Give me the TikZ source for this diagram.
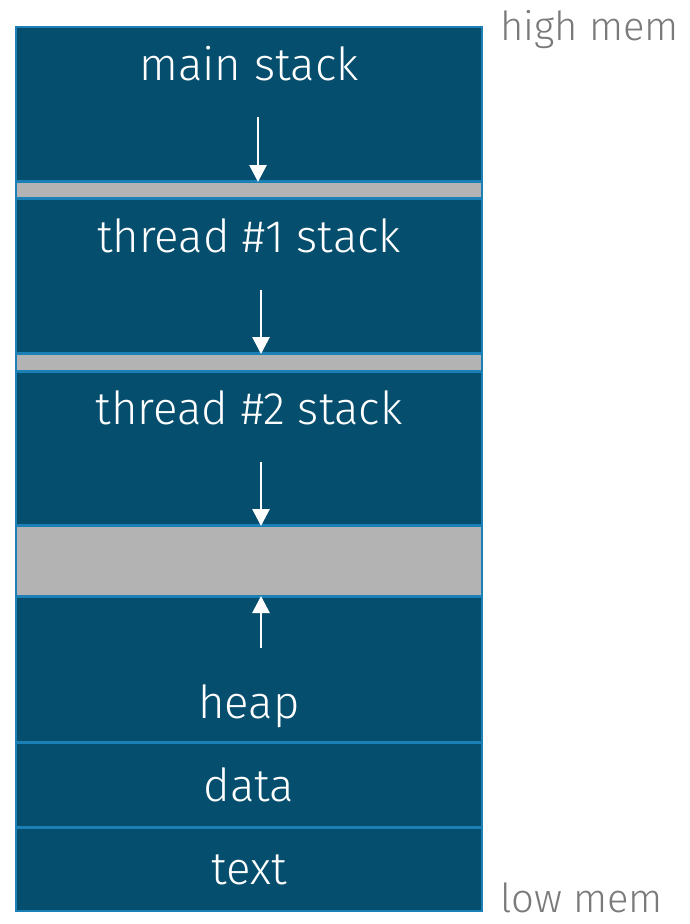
\documentclass[tikz,border=0pt]{standalone}
\usepackage{fontspec}
\setmainfont{Fira Sans Light}
\usetikzlibrary{arrows.meta}
\definecolor{segfill}{HTML}{054E6D}
\definecolor{segline}{HTML}{1A80B6}
\definecolor{gapfill}{HTML}{B3B3B3}
\definecolor{memlabel}{HTML}{7A7A7A}
\tikzset{
  seg/.style={draw=segline, line width=2pt, fill=segfill, minimum width=466pt,
    inner sep=0pt, outer sep=0pt},
  gapseg/.style={seg, fill=gapfill},
  segtext/.style={text=white, font=\fontsize{45.5}{50}\selectfont, inner sep=0pt, anchor=base},
  memtext/.style={text=memlabel, font=\fontsize{40}{44}\selectfont, inner sep=0pt, anchor=base west},
  growth/.style={draw=white, line width=2.8pt, -{Triangle[width=17pt,length=17pt]}}
}
\begin{document}
\begin{tikzpicture}[x=1pt, y=-1pt]
  \useasboundingbox (0,0) rectangle (689,924);
  % memory segments, top to bottom
  \node[seg, minimum height=154pt] (mainstack) at (249,104) {};
  \node[gapseg, minimum height=16pt] (gap1) at (249,190) {};
  \node[seg, minimum height=154pt] (t1stack) at (249,276) {};
  \node[gapseg, minimum height=17pt] (gap2) at (249,362.5) {};
  \node[seg, minimum height=153pt] (t2stack) at (249,448.5) {};
  \node[gapseg, minimum height=70pt] (gap3) at (249,561) {};
  \node[seg, minimum height=145pt] (heap) at (249,669.5) {};
  \node[seg, minimum height=84pt] (data) at (249,785) {};
  \node[seg, minimum height=83pt] (textseg) at (249,869.5) {};
  % segment labels
  \node[segtext] (lmain) at (249,80) {main stack};
  \node[segtext] (lt1) at (249,252) {thread \#1 stack};
  \node[segtext] (lt2) at (249,424) {thread \#2 stack};
  \node[segtext] (lheap) at (249,718) {heap};
  \node[segtext] (ldata) at (249,801) {data};
  \node[segtext] (ltext) at (249,884) {text};
  % address range labels
  \node[memtext] (high) at (500,40) {high mem};
  \node[memtext] (low) at (500,912) {low mem};
  % growth directions
  \coordinate (a1) at (258,117);
  \coordinate (a2) at (261,290);
  \coordinate (a3) at (261,462);
  \coordinate (a4) at (261,648);
  \draw[growth] (a1) -- (a1 |- gap1.north);
  \draw[growth] (a2) -- (a2 |- gap2.north);
  \draw[growth] (a3) -- (a3 |- gap3.north);
  \draw[growth] (a4) -- (a4 |- gap3.south);
\end{tikzpicture}
\end{document}
